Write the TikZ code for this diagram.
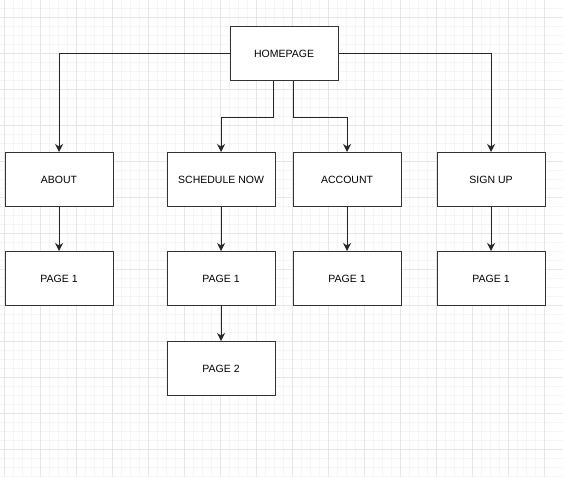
\documentclass[tikz,border=0pt]{standalone}
\usepackage{fontspec}
\setmainfont{Liberation Sans}
\usetikzlibrary{arrows.meta}
\definecolor{minorg}{HTML}{F5F5F5}
\definecolor{majorg}{HTML}{E6E6E6}
\definecolor{boxline}{HTML}{333333}
\begin{document}
\begin{tikzpicture}[x=1pt,y=-1pt,
  pg/.style={draw=boxline,line width=1.1pt,fill=white,minimum width=108pt,minimum height=54pt,inner sep=0pt,font=\fontsize{10.5}{12}\selectfont,anchor=north west},
  conn/.style={draw=black!85,line width=1pt,-{Stealth[length=8pt,width=8pt,inset=2.5pt]}}]
\useasboundingbox (0,0) rectangle (563,477);
\fill[white] (0,0) rectangle (563,477);
% minor grid
\foreach \i in {0,...,63} {
  \draw[minorg,line width=0.6pt] ({4.3+9*\i-36},0) -- ({4.3+9*\i-36},477);
}
\foreach \i in {0,...,55} {
  \draw[minorg,line width=0.6pt] (0,{17.3+9*\i-36}) -- (563,{17.3+9*\i-36});
}
% major grid
\foreach \i in {0,...,15} {
  \draw[majorg,line width=0.7pt] ({4.3+36*\i},0) -- ({4.3+36*\i},477);
}
\foreach \i in {0,...,13} {
  \draw[majorg,line width=0.7pt] (0,{17.3+36*\i}) -- (563,{17.3+36*\i});
}
% nodes
\node[pg] (home) at (229.5,26) {HOMEPAGE};
\node[pg] (about) at (4.5,152) {ABOUT};
\node[pg] (sched) at (166.5,152) {SCHEDULE NOW};
\node[pg] (acct) at (292.5,152) {ACCOUNT};
\node[pg] (sign) at (436.5,152) {SIGN UP};
\node[pg] (aboutp) at (4.5,251) {PAGE 1};
\node[pg] (schedp) at (166.5,251) {PAGE 1};
\node[pg] (acctp) at (292.5,251) {PAGE 1};
\node[pg] (signp) at (436.5,251) {PAGE 1};
\node[pg] (schedq) at (166.5,341) {PAGE 2};
% connectors
\draw[conn] (home.west) -| (about.north);
\draw[conn] (home.east) -| (sign.north);
\draw[conn] ([xshift=-11pt]home.south) -- ++(0,36) -| (sched.north);
\draw[conn] ([xshift=9pt]home.south) -- ++(0,36) -| (acct.north);
\draw[conn] (about) -- (aboutp);
\draw[conn] (sched) -- (schedp);
\draw[conn] (acct) -- (acctp);
\draw[conn] (sign) -- (signp);
\draw[conn] (schedp) -- (schedq);
\end{tikzpicture}
\end{document}
